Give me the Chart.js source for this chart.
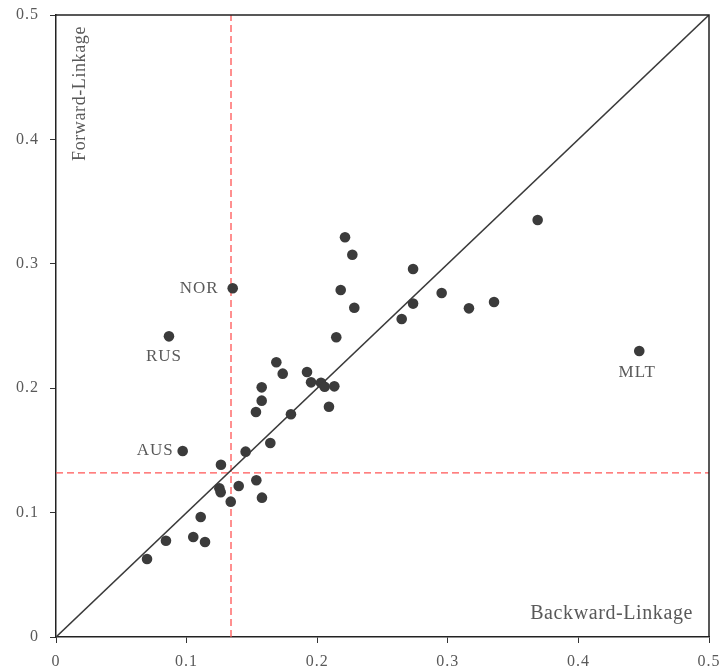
<!DOCTYPE html>
<html>
<head>
<meta charset="utf-8">
<script src="https://cdn.jsdelivr.net/npm/chart.js@4/dist/chart.umd.min.js"></script>
<style>
  html, body { margin: 0; padding: 0; background: #fff; }
  #wrap { width: 720px; height: 668px; }
</style>
</head>
<body>
<div id="wrap"><canvas id="myChart"></canvas></div>
<script>
// Backward linkage (x) and forward linkage (y) per country
var backward = [0.4466, 0.3688, 0.3354, 0.2213, 0.2269, 0.2734, 0.2180, 0.2953, 0.2284, 0.2734,
                0.3162, 0.2647, 0.2146, 0.1687, 0.1736, 0.1922, 0.1953, 0.2029, 0.2057, 0.2131,
                0.1575, 0.1575, 0.1531, 0.1799, 0.2090, 0.1641, 0.1353, 0.0865, 0.0970, 0.1452,
                0.1263, 0.1251, 0.1261, 0.1399, 0.1534, 0.1338, 0.1577, 0.1108, 0.0842, 0.1051,
                0.1141, 0.0697];
var forward  = [0.2299, 0.3352, 0.2693, 0.3213, 0.3073, 0.2958, 0.2789, 0.2765, 0.2647, 0.2680,
                0.2642, 0.2556, 0.2409, 0.2208, 0.2117, 0.2130, 0.2047, 0.2044, 0.2012, 0.2015,
                0.2007, 0.1900, 0.1809, 0.1790, 0.1851, 0.1560, 0.2803, 0.2417, 0.1495, 0.1490,
                0.1385, 0.1195, 0.1163, 0.1214, 0.1260, 0.1088, 0.1120, 0.0965, 0.0774, 0.0804,
                0.0764, 0.0627];
var names    = ['MLT', '', '', '', '', '', '', '', '', '',
                '', '', '', '', '', '', '', '', '', '',
                '', '', '', '', '', '', 'NOR', 'RUS', 'AUS', '',
                '', '', '', '', '', '', '', '', '', '',
                '', ''];

// averages shown as dashed red lines
var avgBackward = 0.134;
var avgForward = 0.132;
var axisMin = 0, axisMax = 0.5, axisStep = 0.1;

var points = backward.map(function (x, i) { return { x: x, y: forward[i] }; });

var serif = '"Liberation Serif", "Times New Roman", serif';

// how each name sits next to its dot
var nameOffset = {
  NOR: { align: 'right', dx: -14, dy: 0 },
  AUS: { align: 'right', dx: -9, dy: 0 },
  RUS: { align: 'center', dx: -5, dy: 20 },
  MLT: { align: 'center', dx: -2, dy: 22 }
};

var spacingPlugin = {
  id: 'spacing',
  beforeDraw: function (chart) { chart.ctx.letterSpacing = '1px'; }
};

var labelPlugin = {
  id: 'labels',
  afterDatasetsDraw: function (chart) {
    var ctx = chart.ctx, xs = chart.scales.x, ys = chart.scales.y, a = chart.chartArea;
    ctx.save();
    // frame
    ctx.strokeStyle = '#222';
    ctx.lineWidth = 1.5;
    ctx.beginPath();
    ctx.moveTo(a.left, a.top);
    ctx.lineTo(a.right, a.top);
    ctx.lineTo(a.right, a.bottom);
    ctx.stroke();

    ctx.fillStyle = '#595959';
    ctx.font = '17px ' + serif;
    ctx.letterSpacing = '1px';
    ctx.textBaseline = 'middle';
    names.forEach(function (n, i) {
      if (!n) return;
      var o = nameOffset[n];
      ctx.textAlign = o.align;
      ctx.fillText(n, xs.getPixelForValue(backward[i]) + o.dx, ys.getPixelForValue(forward[i]) + o.dy);
    });

    // axis titles inside the plot
    ctx.font = '20px ' + serif;
    ctx.letterSpacing = '0.6px';
    ctx.textAlign = 'right';
    ctx.fillText('Backward-Linkage', a.right - 16, a.bottom - 23);
    ctx.save();
    ctx.font = '18px ' + serif;
    ctx.translate(a.left + 24, a.top + 11);
    ctx.rotate(-Math.PI / 2);
    ctx.textAlign = 'right';
    ctx.fillText('Forward-Linkage', 0, 0);
    ctx.restore();
    ctx.restore();
  }
};

var ctx = document.getElementById('myChart');
var myChart = new Chart(ctx, {
  type: 'scatter',
  data: {
    datasets: [
      {
        data: points,
        backgroundColor: '#3b3b3b',
        borderColor: '#3b3b3b',
        pointRadius: 5.3,
        pointBorderWidth: 0,
        order: 1
      },
      {
        type: 'line',
        data: [{ x: axisMin, y: axisMin }, { x: axisMax, y: axisMax }],
        borderColor: '#3a3a3a',
        borderWidth: 1.6,
        pointRadius: 0,
        fill: false,
        order: 2
      },
      {
        type: 'line',
        data: [{ x: avgBackward, y: axisMin }, { x: avgBackward, y: axisMax }],
        borderColor: '#ff5555',
        borderWidth: 1.3,
        borderDash: [7, 4],
        pointRadius: 0,
        fill: false,
        order: 3
      },
      {
        type: 'line',
        data: [{ x: axisMin, y: avgForward }, { x: axisMax, y: avgForward }],
        borderColor: '#ff5555',
        borderWidth: 1.3,
        borderDash: [7, 4],
        pointRadius: 0,
        fill: false,
        order: 3
      }
    ]
  },
  options: {
    responsive: true,
    maintainAspectRatio: false,
    animation: false,
    layout: { padding: { left: 0, right: 11, top: 15, bottom: 0 } },
    plugins: { legend: { display: false }, tooltip: { enabled: false } },
    scales: {
      x: {
        type: 'linear',
        min: axisMin,
        max: axisMax,
        afterFit: function (s) { s.height = 31; s.paddingLeft = 0; s.paddingRight = 0; },
        ticks: {
          stepSize: axisStep,
          color: '#595959',
          font: { family: serif, size: 16 },
          padding: 9,
          callback: function (v) { return Math.round(v * 10) / 10; }
        },
        grid: { drawOnChartArea: false, tickLength: 6, tickColor: '#333' },
        border: { color: '#222', width: 1.5 }
      },
      y: {
        type: 'linear',
        min: axisMin,
        max: axisMax,
        afterFit: function (s) { s.width = 56; s.paddingTop = 0; s.paddingBottom = 0; },
        ticks: {
          stepSize: axisStep,
          color: '#595959',
          font: { family: serif, size: 16 },
          padding: 11,
          callback: function (v) { return Math.round(v * 10) / 10; }
        },
        grid: { drawOnChartArea: false, tickLength: 6, tickColor: '#333' },
        border: { color: '#222', width: 1.5 }
      }
    }
  },
  plugins: [spacingPlugin, labelPlugin]
});
</script>
</body>
</html>
